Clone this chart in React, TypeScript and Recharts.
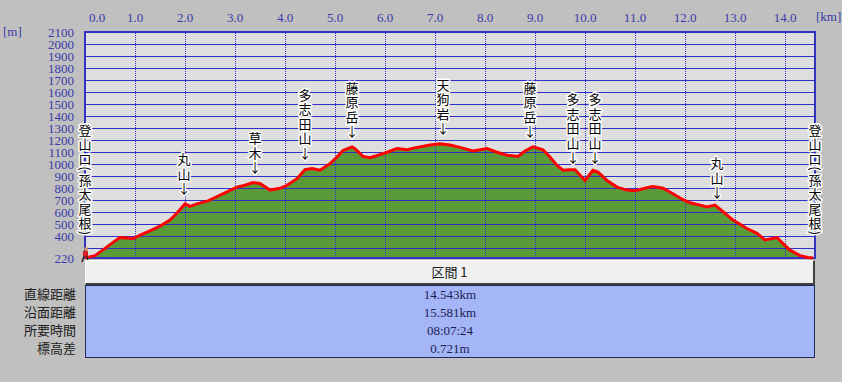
import React from 'react';
import {
  ComposedChart, Area, Line, XAxis, YAxis, CartesianGrid,
  ReferenceDot, ReferenceArea,
} from 'recharts';

// horizontal distance [km] and elevation [m]
const kmValues = [
  0, 0.04, 0.2, 0.4, 0.56, 0.7, 0.9, 0.96, 1.1, 1.3,
  1.5, 1.7, 1.84, 2.0, 2.1, 2.24, 2.46, 2.56, 2.84, 3.04,
  3.2, 3.36, 3.5, 3.7, 3.9, 4.04, 4.24, 4.4, 4.54, 4.7,
  4.9, 5.04, 5.16, 5.34, 5.4, 5.56, 5.7, 5.86, 6.04, 6.24,
  6.44, 6.64, 6.9, 7.1, 7.3, 7.5, 7.76, 8.04, 8.24, 8.44,
  8.66, 8.8, 8.96, 9.16, 9.3, 9.44, 9.56, 9.7, 9.8, 10.0,
  10.16, 10.26, 10.44, 10.64, 10.84, 11.0, 11.24, 11.36, 11.56, 11.76,
  11.96, 12.1, 12.3, 12.44, 12.6, 12.76, 12.96, 13.24, 13.44, 13.6,
  13.84, 13.96, 14.1, 14.3, 14.46, 14.56,
];
const elevValues = [
  222, 225, 240, 300, 350, 390, 385, 380, 410, 445,
  485, 535, 595, 670, 650, 670, 695, 715, 770, 810,
  825, 847, 840, 785, 800, 825, 880, 955, 965, 950,
  1005, 1060, 1115, 1145, 1130, 1065, 1055, 1075, 1100, 1130,
  1120, 1140, 1160, 1170, 1160, 1140, 1110, 1130, 1100, 1075,
  1065, 1110, 1145, 1120, 1060, 990, 950, 955, 955, 865,
  950, 935, 865, 810, 785, 780, 805, 815, 800, 755,
  705, 680, 660, 645, 660, 605, 535, 465, 425, 370,
  390, 340, 285, 240, 225, 220,
];

const xTicks = [0, 1, 2, 3, 4, 5, 6, 7, 8, 9, 10, 11, 12, 13, 14];
const yTickLabels = [220, 400, 500, 600, 700, 800, 900, 1000, 1100, 1200, 1300, 1400, 1500, 1600, 1700, 1800, 1900, 2000, 2100];
const yGridLines = [300, 400, 500, 600, 700, 800, 900, 1000, 1100, 1200, 1300, 1400, 1500, 1600, 1700, 1800, 1900, 2000, 2100];

const peakNames = ['丸山', '草木', '多志田山', '藤原岳', '天狗岩', '藤原岳', '多志田山', '多志田山', '丸山'];
const peakKm = [1.98, 3.4, 4.4, 5.34, 7.16, 8.9, 9.76, 10.2, 12.64];
const peakElev = [670, 847, 965, 1145, 1170, 1145, 930, 930, 640];

const endName = '登山口(孫太尾根)';
const endKm = [0, 14.6];
const endElev = [220, 220];

const sectionTitle = '区間 1';
const rowLabels = ['直線距離', '沿面距離', '所要時間', '標高差'];
const rowValues = ['14.543km', '15.581km', '08:07:24', '0.721m'];

const X_MIN = 0;
const X_MAX = 14.6;
const Y_MIN = 220;
const Y_MAX = 2100;

const profile = kmValues.map((km, i) => ({ km, elev: elevValues[i] }));
// grid drawn as thin series so it sits on top of the green fill
const hGrid = yGridLines.map((v) => [{ km: X_MIN, g: v }, { km: X_MAX, g: v }]);
const vGrid = xTicks.slice(1).map((v) => [{ km: v, g: Y_MIN }, { km: v, g: Y_MAX }]);

const serif = '"Liberation Serif", "DejaVu Serif", serif';
const cjk = '"Noto Sans CJK JP", "Noto Sans", sans-serif';
const axisBlue = '#3a3aa8';

const stackText = (chars: string[], cx: number, bottomY: number) => {
  const out: React.ReactNode[] = [];
  let y = bottomY;
  for (let i = chars.length - 1; i >= 0; i--) {
    const ch = chars[i];
    const paren = ch === '(' || ch === ')';
    out.push(
      <text
        key={i}
        x={cx}
        y={y}
        textAnchor="middle"
        dominantBaseline="central"
        transform={paren ? `rotate(90 ${cx} ${y})` : undefined}
        fontFamily={cjk}
        fontSize={13}
        fill="#000"
        stroke="#fff"
        strokeWidth={3}
        strokeLinejoin="round"
        paintOrder="stroke"
      >
        {ch}
      </text>
    );
    if (i > 0) {
      const prev = chars[i - 1];
      const prevParen = prev === '(' || prev === ')';
      y -= paren || prevParen ? 10.5 : 14.5;
    }
  }
  return <g>{out}</g>;
};

const Hiker = ({ cx, cy }: any) => (
  <g>
    <circle cx={cx + 1} cy={cy - 9} r={2} fill="#c89060" />
    <rect x={cx - 2} y={cy - 7} width={5} height={5} fill="#d02020" />
    <line x1={cx - 1} y1={cy - 2} x2={cx - 3} y2={cy + 4} stroke="#402010" strokeWidth={1.5} />
    <line x1={cx + 2} y1={cy - 2} x2={cx + 3} y2={cy + 4} stroke="#402010" strokeWidth={1.5} />
  </g>
);

const TopTick = ({ x, payload }: any) => (
  <text x={payload.value === 0 ? x + 12 : x} y={22} textAnchor="middle" fontFamily={serif} fontSize={13} fill={axisBlue}>
    {Number(payload.value).toFixed(1)}
  </text>
);

const LeftTick = ({ y, payload }: any) => (
  <text x={74} y={y} textAnchor="end" dominantBaseline="central" fontFamily={serif} fontSize={13} fill={axisBlue}>
    {payload.value}
  </text>
);

export default function App() {
  return (
    <div style={{ position: 'absolute', left: 0, top: 0, width: 842, height: 382, background: '#c0c0c0', overflow: 'hidden' }}>
      <div style={{ position: 'absolute', left: 3, top: 24, fontFamily: serif, fontSize: 13, color: axisBlue }}>[m]</div>
      <div style={{ position: 'absolute', left: 816, top: 9, fontFamily: serif, fontSize: 13, color: axisBlue }}>[km]</div>

      <div style={{ position: 'absolute', left: 0, top: 0 }}>
        <ComposedChart width={842} height={266} data={profile} margin={{ top: 0, right: 27, bottom: 8, left: 0 }}>
          <CartesianGrid horizontal={false} vertical={false} fill="#dedede" />
          <XAxis
            dataKey="km" type="number" domain={[X_MIN, X_MAX]} ticks={xTicks} orientation="top"
            height={32} axisLine={false} tickLine={false} interval={0} tick={<TopTick />}
          />
          <YAxis
            type="number" domain={[Y_MIN, Y_MAX]} ticks={yTickLabels} width={85}
            axisLine={false} tickLine={false} interval={0} tick={<LeftTick />}
          />
          <Area dataKey="elev" type="linear" fill="#5b9a38" fillOpacity={1} stroke="none" isAnimationActive={false} />
          {hGrid.map((d, i) => (
            <Line key={'h' + i} data={d} dataKey="g" type="linear" stroke="#3030c8" strokeWidth={1}
              shapeRendering="crispEdges" dot={false} activeDot={false} isAnimationActive={false} />
          ))}
          {vGrid.map((d, i) => (
            <Line key={'v' + i} data={d} dataKey="g" type="linear" stroke="#3838c8" strokeWidth={1}
              shapeRendering="crispEdges" strokeDasharray="1 1" dot={false} activeDot={false} isAnimationActive={false} />
          ))}
          <ReferenceArea x1={X_MIN} x2={X_MAX} y1={Y_MIN} y2={Y_MAX} fill="#ffffff" fillOpacity={0} stroke="#3434c0" strokeWidth={2} />
          <Line dataKey="elev" type="linear" stroke="#ff0000" strokeWidth={3} dot={false} activeDot={false} isAnimationActive={false} />
          {peakNames.map((name, i) => (
            <ReferenceDot
              key={'p' + i} x={peakKm[i]} y={peakElev[i]} r={1}
              shape={(p: any) => stackText([...name.split(''), '↓'], p.cx, p.cy - 16)}
            />
          ))}
          {endKm.map((km, i) => (
            <ReferenceDot
              key={'e' + i} x={km} y={endElev[i]} r={1}
              shape={(p: any) => stackText(endName.split(''), p.cx, p.cy - 25)}
            />
          ))}
          <ReferenceDot x={0} y={220} r={1} shape={(p: any) => <Hiker cx={p.cx} cy={p.cy} />} />
        </ComposedChart>
      </div>

      <div style={{
        position: 'absolute', left: 85, top: 260, width: 727, height: 22,
        background: '#f0f0f0', borderTop: '1px solid #ffffff', borderLeft: '1px solid #ffffff',
        borderRight: '2px solid #404040', borderBottom: '2px solid #404040',
        fontFamily: cjk, fontSize: 13, color: '#202020', textAlign: 'center', lineHeight: '22px',
      }}>
        {sectionTitle}
      </div>
      <div style={{
        position: 'absolute', left: 85, top: 285, width: 728, height: 71,
        background: '#a4b6f8', border: '1px solid #202a60',
      }}>
        {rowValues.map((v) => (
          <div key={v} style={{ height: 18, lineHeight: '18px', textAlign: 'center', fontFamily: serif, fontSize: 13, color: '#1c2050' }}>{v}</div>
        ))}
      </div>
      <div style={{ position: 'absolute', left: 0, top: 285, width: 76 }}>
        {rowLabels.map((l) => (
          <div key={l} style={{ height: 18, lineHeight: '18px', textAlign: 'right', fontFamily: cjk, fontSize: 13, color: '#202020' }}>{l}</div>
        ))}
      </div>
    </div>
  );
}
